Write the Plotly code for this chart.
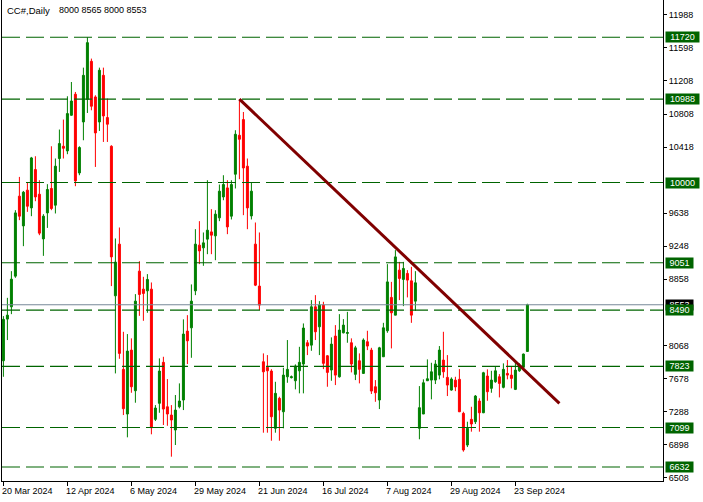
import pandas as pd
import plotly.graph_objects as go

# ---- data ----
holidays = ["2024-03-29", "2024-05-27", "2024-06-19", "2024-07-04", "2024-09-02"]
dates = [d.strftime("%Y-%m-%d") for d in pd.bdate_range("2024-03-20", "2024-09-26")
         if d.strftime("%Y-%m-%d") not in holidays]

opens = [7890, 8383, 8529, 8892, 9839, 9487, 9910, 9700, 10154, 9862,
         9333, 9641, 9930, 9732, 10285, 10430, 10375, 10797, 11046, 10114,
         10718, 10986, 11436, 11014, 10718, 11270, 10770, 10430, 8659, 9271,
         7788, 7259, 8016, 7535, 8951, 8738, 8718, 8738, 7196, 7386,
         7871, 7345, 7247, 7070, 7345, 7425, 8241, 8280, 8718, 9259,
         9227, 9330, 9416, 9369, 9582, 9830, 9937, 9602, 10099, 10560,
         10746, 10194, 9605, 9271, 8774, 7878, 7812, 7768, 7090, 7445,
         7286, 7700, 7690, 7653, 7771, 7851, 8103, 8075, 8529, 8292,
         8549, 7949, 7780, 8182, 7700, 8221, 8214, 8103, 7729, 7890,
         7740, 8115, 8016, 7582, 7425, 7937, 8245, 8640, 8430, 8963,
         8853, 8924, 8836, 8596, 7090, 7259, 7653, 7661, 7661, 7720,
         7898, 7693, 7543, 7660, 7670, 7267, 6892, 7196, 7168, 7413,
         7274, 7709, 7563, 7641, 7700, 7575, 7740, 7720, 7551, 7771,
         7812, 8000]
highs = [8419, 8635, 8951, 9673, 10067, 9901, 9996, 10304, 10312, 10028,
         9626, 9981, 10430, 10285, 10628, 10746, 11022, 11191, 11073, 10430,
         11361, 11720, 11468, 11034, 11361, 11361, 10995, 10442, 9338, 9468,
         8233, 8206, 8155, 8679, 9069, 8884, 8916, 8817, 7365, 7918,
         7937, 7673, 7365, 7484, 7622, 8380, 8430, 8794, 9448, 9543,
         9409, 10028, 9685, 9673, 9977, 10087, 10028, 10028, 10620, 10988,
         10836, 10285, 10001, 9527, 9409, 7977, 7957, 7790, 7641, 7464,
         7807, 8135, 7715, 7847, 8055, 8332, 8135, 8608, 8667, 8596,
         8588, 7957, 8167, 8312, 8442, 8383, 8469, 8155, 8067, 7977,
         8155, 8245, 8043, 7661, 8055, 8339, 9034, 8824, 9200, 9061,
         9061, 8963, 9002, 8951, 7590, 7670, 7906, 7866, 7898, 8064,
         8233, 7957, 7693, 7700, 7791, 7286, 7168, 7345, 7484, 7445,
         7759, 7788, 7771, 7827, 7732, 7859, 7898, 7827, 7898, 7859,
         7975, 8565]
lows = [7700, 8135, 8442, 8872, 9555, 9247, 9653, 9602, 9779, 9377,
        9132, 9463, 9673, 9634, 10126, 10285, 10336, 10793, 9957, 10087,
        10501, 10824, 10856, 10185, 10611, 10481, 10481, 8774, 7740, 7913,
        7247, 6983, 7511, 7393, 8422, 8363, 8458, 7019, 7176, 7274,
        7129, 7120, 6754, 6892, 7326, 7306, 7851, 7925, 8667, 9034,
        9014, 9152, 9152, 9081, 9543, 9791, 9389, 9563, 9930, 10040,
        9614, 9448, 9563, 8774, 8490, 7038, 7038, 6943, 7038, 6943,
        7090, 7629, 7680, 7551, 7504, 7504, 7957, 8008, 8135, 7957,
        7791, 7582, 7653, 7602, 7690, 8214, 8103, 7752, 7661, 7622,
        7740, 8016, 7496, 7404, 7318, 7937, 8221, 8036, 8430, 8608,
        8537, 8640, 8339, 8480, 6960, 7259, 7653, 7433, 7614, 7670,
        7688, 7472, 7535, 7530, 7282, 6813, 6868, 7050, 7141, 7050,
        7270, 7416, 7511, 7629, 7456, 7563, 7670, 7563, 7543, 7759,
        7800, 8000]
closes = [8380, 8430, 8856, 9641, 9602, 9886, 9720, 10292, 9830, 9401,
          9602, 9918, 9693, 10194, 10462, 10406, 10817, 10966, 10020, 10415,
          11270, 11657, 10904, 10588, 11330, 10789, 10691, 9120, 9058, 7977,
          7322, 8004, 7582, 8596, 8675, 8687, 8853, 7097, 7330, 7768,
          7318, 7259, 7188, 7306, 7413, 8206, 8126, 8596, 9271, 9191,
          9286, 9436, 9377, 9626, 9898, 9977, 9475, 9977, 10572, 10513,
          10173, 9700, 9898, 8785, 8549, 7759, 7771, 7227, 7504, 7306,
          7720, 7788, 7700, 7827, 7871, 8277, 8064, 8529, 8233, 8549,
          7859, 7752, 8087, 7720, 8253, 8312, 8224, 7851, 8043, 7788,
          8135, 8064, 7531, 7511, 8043, 8280, 8824, 8458, 9120, 8865,
          8983, 8845, 8430, 8813, 7334, 7629, 7677, 7759, 7851, 8016,
          7759, 7602, 7673, 7580, 7286, 6833, 7090, 7141, 7472, 7274,
          7748, 7523, 7661, 7771, 7622, 7788, 7720, 7681, 7779, 7839,
          7969, 8553]

level_lines = [11720, 10988, 10000, 9051, 8490, 7823, 7099, 6632]
current_price = 8553
trend_start = (59, 10988)
trend_end = (139, 7386)

ytick_vals = [6508, 6898, 7288, 7678, 8068, 8858, 9248, 9638, 10418, 10808, 11208, 11598, 11988]
xtick_idx = [0, 16, 32, 48, 64, 80, 96, 112, 128]
xtick_text = ["20 Mar 2024", "12 Apr 2024", "6 May 2024", "29 May 2024", "21 Jun 2024",
              "16 Jul 2024", "7 Aug 2024", "29 Aug 2024", "23 Sep 2024"]
title_sym = "CC#,Daily"
title_ohlc = "8000 8565 8000 8553"

FONT = "Liberation Sans, Arial, sans-serif"
GREEN = "#008000"
RED = "#FF0000"
LVL = "#006400"

fig = go.Figure()
fig.add_trace(go.Candlestick(
    x=list(range(len(dates))), open=opens, high=highs, low=lows, close=closes,
    text=dates,
    increasing=dict(line=dict(color=GREEN, width=1), fillcolor=GREEN),
    decreasing=dict(line=dict(color=RED, width=1), fillcolor=RED),
    whiskerwidth=0, showlegend=False,
))

shapes = []
for lv in level_lines:
    shapes.append(dict(type="line", xref="paper", x0=0, x1=1, yref="y", y0=lv, y1=lv,
                       line=dict(color=LVL, width=1.1, dash="18px,6px")))
shapes.append(dict(type="line", xref="paper", x0=0, x1=1, yref="y", y0=current_price, y1=current_price,
                   line=dict(color="#778899", width=1)))
shapes.append(dict(type="line", xref="x", yref="y", x0=trend_start[0], y0=trend_start[1],
                   x1=trend_end[0], y1=trend_end[1], line=dict(color="#800000", width=3)))

ann = []
ann.append(dict(x=0, xref="paper", xshift=3, y=1, yref="paper", yshift=-3, yanchor="top", xanchor="left",
                text=title_sym, showarrow=False, font=dict(family=FONT, size=9.5, color="black")))
ann.append(dict(x=0, xref="paper", xshift=55, y=1, yref="paper", yshift=-3, yanchor="top", xanchor="left",
                text=title_ohlc, showarrow=False, font=dict(family=FONT, size=9, color="black")))
for i, t in zip(xtick_idx, xtick_text):
    ann.append(dict(x=i, xref="x", xshift=-2, y=0, yref="paper", yshift=-4, yanchor="top", xanchor="left",
                    text=t, showarrow=False, borderpad=0, font=dict(family=FONT, size=9, color="black")))

def price_label(v, bg):
    s = str(v)
    return dict(x=1, xref="paper", xshift=2, y=v, yref="y", xanchor="left", yanchor="middle",
                text=s, showarrow=False, bgcolor=bg, borderpad=0, width=33 if len(s) == 5 else 27,
                height=10, align="center", font=dict(family=FONT, size=9, color="white"))

ann.append(price_label(current_price, "black"))
for lv in level_lines:
    ann.append(price_label(lv, LVL))

fig.update_layout(
    width=703, height=502,
    margin=dict(l=2, r=40, t=0, b=21),
    paper_bgcolor="white", plot_bgcolor="white",
    shapes=shapes, annotations=ann,
    xaxis=dict(range=[-0.35, 164.9], rangeslider=dict(visible=False), showgrid=False, zeroline=False,
               showline=True, linecolor="black", linewidth=1,
               tickmode="array", tickvals=xtick_idx, ticktext=[""] * len(xtick_idx),
               ticks="outside", ticklen=4, tickcolor="black", showticklabels=False),
    yaxis=dict(side="right", range=[6466, 12162], showgrid=False, zeroline=False,
               showline=True, mirror=True, linecolor="black", linewidth=1,
               tickmode="array", tickvals=ytick_vals, ticktext=[str(v) for v in ytick_vals],
               ticks="outside", ticklen=3, tickcolor="black",
               tickfont=dict(family=FONT, size=9, color="black")),
    hovermode=False,
)

fig.write_html("out.html", config={"displayModeBar": False},
               post_script="document.body.style.margin='0px';")
